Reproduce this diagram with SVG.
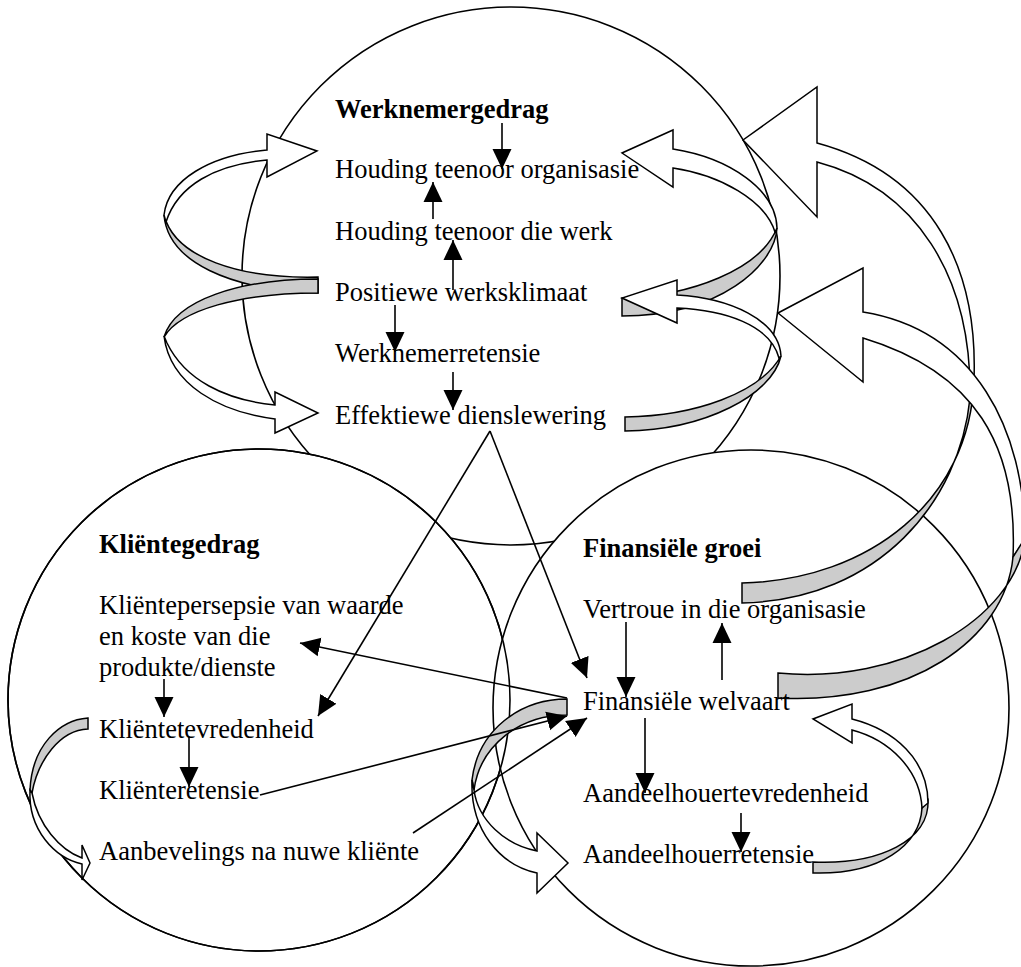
<svg xmlns="http://www.w3.org/2000/svg" width="1021" height="967" viewBox="0 0 1021 967">
<defs>
<marker id="ah" viewBox="0 0 20 20" refX="20" refY="10" markerWidth="20" markerHeight="20" markerUnits="userSpaceOnUse" orient="auto"><path d="M0,0.5 L20,10 L0,19.5 z" fill="#000"/></marker>
<style>
.c{fill:none;stroke:#000;stroke-width:1.6}
.cf{fill:#fff;stroke:#000;stroke-width:1.6}
.w{fill:#fff;stroke:#000;stroke-width:1.5;stroke-linejoin:miter}
.g{fill:#cccccc;stroke:#000;stroke-width:1.5}
.l{fill:none;stroke:#000;stroke-width:1.6;marker-end:url(#ah)}
text{font-family:"Liberation Serif","Times New Roman",serif;font-size:26.5px;fill:#000}
.b{font-weight:bold}
</style>
</defs>
<rect width="1021" height="967" fill="#fff"/>
<g id="regions">
<circle class="c" cx="511" cy="276" r="269"/>
<circle class="cf" cx="259" cy="700" r="251"/>
<circle class="cf" cx="751" cy="708" r="258"/>
<circle class="c" cx="259" cy="700" r="251"/>
</g>
<g id="connectors">
<g id="loop-a"><path class="g" d="M318,277 C240,279 175,258 164,215 C168,262 230,290 318,293 Z"/><path class="w" d="M164,215 C168,180 210,155 267,150 L267,134 L317,151 L267,177 L267,160 C215,165 178,185 166,222 Z"/></g>
<g id="loop-b"><path class="g" d="M318,279 C240,279 175,300 164,337 C180,310 240,293 318,293 Z"/><path class="w" d="M164,336 C170,385 220,412 275,419 L275,433 L318,413 L275,392 L275,405 C225,400 185,380 167,343 Z"/></g>
<g id="loop-d"><path class="g" d="M622,298 C690,296 760,270 777,228 C775,265 720,316 622,316 Z"/><path class="w" d="M777,228 C776,190 730,158 673,149 L673,130 L622,153 L673,187 L673,168 C720,175 765,200 775,232 Z"/></g>
<g id="loop-c"><path class="g" d="M625,417 C695,416 760,393 781,356 C772,395 705,430 625,431 Z"/><path class="w" d="M781,356 C779,320 730,298 677,295 L677,280 L622,298 L677,323 L677,308 C725,310 770,325 779,358 Z"/></g>
<g id="loop-f"><path class="w" d="M974,380 C978,270 935,175 817,143 L817,87 L743,140 L817,217 L817,162 C915,188 972,275 970,398 Z"/><path class="g" d="M974,380 C970,500 870,580 742,583 L742,603 C880,600 960,500 970,398 Z"/></g>
<g id="loop-e"><path class="w" d="M1025,540 C1025,430 975,330 863,312 L863,268 L778,313 L863,382 L863,338 C975,372 1018,445 1013,557 Z"/><path class="g" d="M1025,538 C1015,620 900,685 778,673 L778,698 C910,705 1005,640 1013,557 Z"/></g>
<g id="loop-g"><path class="g" d="M928,800 C930,840 880,865 813,862 L813,873 C880,875 920,845 922,808 Z"/><path class="w" d="M928,803 C928,760 895,730 852,719 L852,704 L813,719 L852,743 L852,730 C890,740 920,770 922,808 Z"/></g>
<g id="loop-h"><path class="g" d="M567,699 C520,699 478,730 472,780 L474,790 C480,745 520,715 567,715 Z"/><path class="w" d="M472,780 C470,830 500,865 537,873 L537,893 L568,863 L537,833 L537,851 C505,845 478,820 474,790 Z"/></g>
<g id="loop-i"><path class="g" d="M88,718 C60,720 32,745 30,790 L32,793 C38,760 60,730 88,729 Z"/><path class="w" d="M30,790 C28,830 55,858 82,864 L82,880 L90,863 L82,845 L82,858 C60,850 38,825 32,793 Z"/></g>
<line class="l" x1="502" y1="123" x2="502" y2="169"/>
<line class="l" x1="433" y1="219" x2="433" y2="182"/>
<line class="l" x1="453" y1="290" x2="453" y2="240"/>
<line class="l" x1="395" y1="305" x2="395" y2="352"/>
<line class="l" x1="453" y1="372" x2="453" y2="410"/>
<line class="l" x1="490" y1="431" x2="318" y2="716"/>
<line class="l" x1="490" y1="431" x2="587" y2="678"/>
<line class="l" x1="567" y1="698" x2="300" y2="643"/>
<line class="l" x1="260" y1="795" x2="567" y2="716"/>
<line class="l" x1="413" y1="833" x2="587" y2="718"/>
<line class="l" x1="164" y1="679" x2="164" y2="717"/>
<line class="l" x1="189" y1="737" x2="189" y2="787"/>
<line class="l" x1="626" y1="622" x2="626" y2="697"/>
<line class="l" x1="722" y1="680" x2="722" y2="623"/>
<line class="l" x1="645" y1="718" x2="645" y2="793"/>
<line class="l" x1="741" y1="813" x2="741" y2="852"/>
</g>
<g id="werknemergedrag"><text class="b" x="335" y="117.5">Werknemergedrag</text></g>
<g id="houding-organisasie"><text x="335" y="178">Houding teenoor organisasie</text></g>
<g id="houding-werk"><text x="335" y="239.5">Houding teenoor die werk</text></g>
<g id="werksklimaat"><text x="335" y="301">Positiewe werksklimaat</text></g>
<g id="werknemerretensie"><text x="335" y="362">Werknemerretensie</text></g>
<g id="dienslewering"><text x="335" y="423.5">Effektiewe dienslewering</text></g>
<g id="klientegedrag"><text class="b" x="99" y="553">Kliëntegedrag</text></g>
<g id="klientepersepsie"><text x="99" y="614">Kliëntepersepsie van waarde</text><text x="99" y="645">en koste van die</text><text x="99" y="676">produkte/dienste</text></g>
<g id="klientetevredenheid"><text x="99" y="738">Kliëntetevredenheid</text></g>
<g id="klienteretensie"><text x="99" y="799">Kliënteretensie</text></g>
<g id="aanbevelings"><text x="99" y="860">Aanbevelings na nuwe kliënte</text></g>
<g id="finansiele-groei"><text class="b" x="583" y="557">Finansiële groei</text></g>
<g id="vertroue"><text x="583" y="618">Vertroue in die organisasie</text></g>
<g id="welvaart"><text x="583" y="710">Finansiële welvaart</text></g>
<g id="aandeelhouertevredenheid"><text x="583" y="802">Aandeelhouertevredenheid</text></g>
<g id="aandeelhouerretensie"><text x="583" y="863">Aandeelhouerretensie</text></g>
</svg>
